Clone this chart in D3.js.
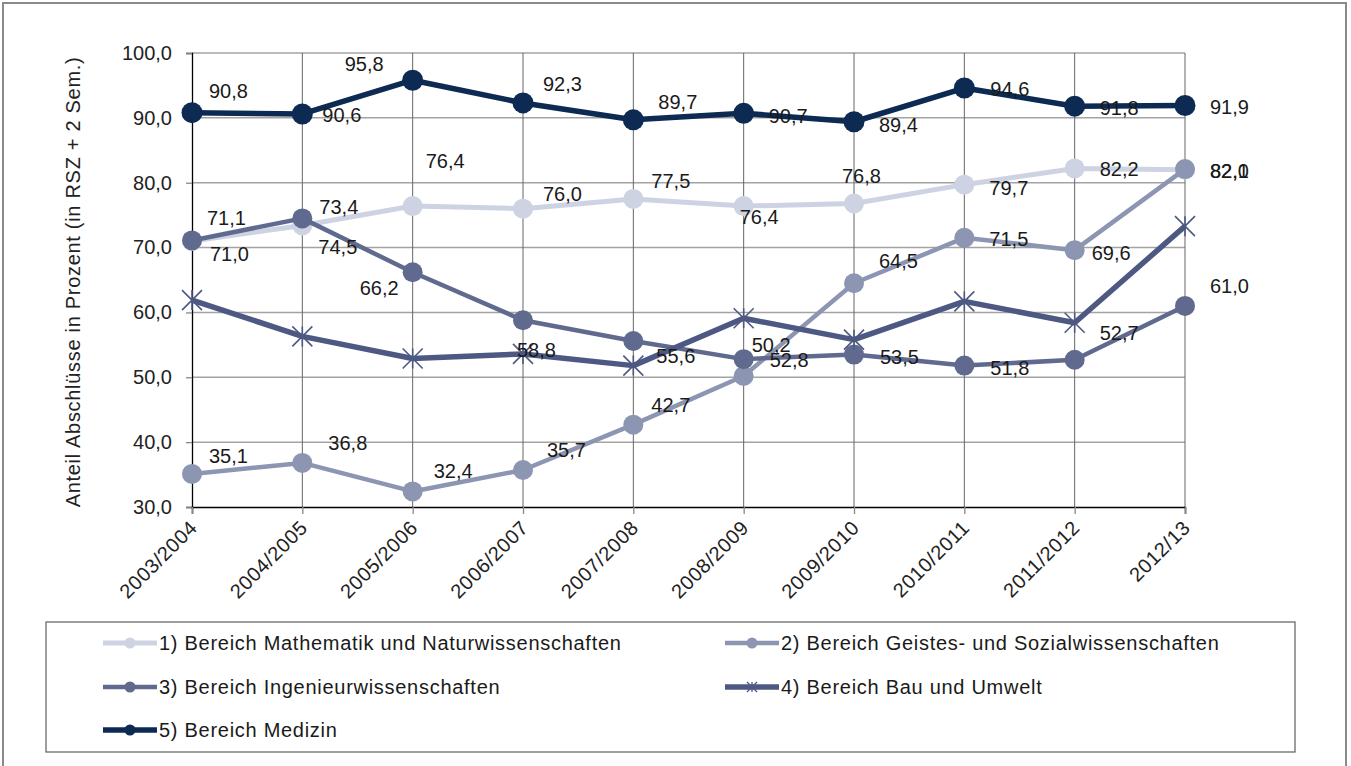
<!DOCTYPE html>
<html><head><meta charset="utf-8">
<script src="https://cdn.jsdelivr.net/npm/d3@7"></script>
<style>
html,body{margin:0;padding:0;background:#fff;}
svg{display:block;font-family:"Liberation Sans",Arial,Helvetica,sans-serif;}
</style></head>
<body>
<svg id="chart" width="1351" height="766"></svg>
<script>
const categories = ["2003/2004","2004/2005","2005/2006","2006/2007","2007/2008","2008/2009","2009/2010","2010/2011","2011/2012","2012/13"];
const yTicks = [30,40,50,60,70,80,90,100];
const seriesNames = ["1) Bereich Mathematik und Naturwissenschaften","2) Bereich Geistes- und Sozialwissenschaften","3) Bereich Ingenieurwissenschaften","4) Bereich Bau und Umwelt","5) Bereich Medizin"];
const mathematik = [71.0,73.4,76.4,76.0,77.5,76.4,76.8,79.7,82.2,82.0];
const geistes    = [35.1,36.8,32.4,35.7,42.7,50.2,64.5,71.5,69.6,82.1];
const ingenieur  = [71.1,74.5,66.2,58.8,55.6,52.8,53.5,51.8,52.7,61.0];
const bau        = [61.9,56.3,52.9,53.6,51.8,59.1,55.8,61.7,58.4,73.3];
const medizin    = [90.8,90.6,95.8,92.3,89.7,90.7,89.4,94.6,91.8,91.9];
const yTitle = "Anteil Abschlüsse in Prozent (in RSZ + 2 Sem.)";

// label placement (dx from point to text start, dy from point to baseline)
const labelPos = [
  [[18,19.5],[17,-12],[13,-38],[20,-8],[18,-11],[-4,18],[-12,-20],[25,10],[25,8],[25,8.5]],
  [[17,-11],[26,-13],[21,-13],[24,-13],[18,-12.5],[8,-24],[25,-15],[25,8],[17,10],[25,9]],
  [[15,-15],[16,36],[-53,23],[-6,37],[23,22],[26,8],[26,9.5],[26,9.5],[25,-19.5],[25,-12.5]],
  null,
  [[17,-15],[20,8],[-68,-9],[20,-12],[25,-11],[25,9.5],[25,10],[26,8],[25,9],[25,8]]
];

const colors = ["#cdd3e2","#8c95b2","#5f6a8e","#4d5982","#0c2a52"];
const widths = [5,4.5,4.5,5.5,5.5];
const markers = ["circle","circle","circle","star","circle"];
const allSeries = [mathematik,geistes,ingenieur,bau,medizin];

const svg = d3.select("#chart");
const x = d3.scalePoint().domain(categories).range([192,1185]);
const y = d3.scaleLinear().domain([30,100]).range([507,53]);
const fmt = v => d3.format(".1f")(v).replace(".", ",");

// outer frame
svg.append("rect").attr("x",3).attr("y",3).attr("width",1343).attr("height",775)
  .attr("fill","none").attr("stroke","#8a8a8a").attr("stroke-width",2);

// horizontal grid
svg.append("g").selectAll("line").data(yTicks.filter(d=>d>30)).join("line")
  .attr("x1",x.range()[0]).attr("x2",x.range()[1])
  .attr("y1",d=>y(d)).attr("y2",d=>y(d))
  .attr("stroke","#a3a3a3").attr("stroke-width",1.5);
// vertical grid
svg.append("g").selectAll("line").data(categories.slice(1)).join("line")
  .attr("x1",d=>x(d)).attr("x2",d=>x(d))
  .attr("y1",y(100)).attr("y2",y(30))
  .attr("stroke","#666").attr("stroke-width",1);

// y axis
const yAxis = d3.axisLeft(y).tickValues(yTicks).tickSize(6).tickPadding(14).tickFormat(fmt);
const gy = svg.append("g").attr("transform",`translate(${x.range()[0]},0)`).call(yAxis);
gy.select(".domain").attr("stroke","#000").attr("stroke-width",1.3);
gy.selectAll(".tick line").attr("stroke","#888").attr("stroke-width",1.3);
gy.selectAll(".tick text").attr("font-size",20).attr("fill","#222").attr("font-family","Liberation Sans, Arial, sans-serif");

// x axis
const xAxis = d3.axisBottom(x).tickSize(7).tickFormat(d=>d);
const gx = svg.append("g").attr("transform",`translate(0,${y(30)})`).call(xAxis);
gx.select(".domain").attr("stroke","#000").attr("stroke-width",1.5);
gx.selectAll(".tick line").attr("stroke","#888").attr("stroke-width",1.3);
gx.selectAll(".tick text").attr("font-size",20).attr("letter-spacing","0.6px").attr("fill","#222")
  .attr("font-family","Liberation Sans, Arial, sans-serif")
  .attr("text-anchor","end").attr("dy",null)
  .attr("transform","translate(6,22) rotate(-45)").attr("x",0).attr("y",0);

// y title
svg.append("text").attr("transform",`translate(80,${(y(30)+y(100))/2+2}) rotate(-90)`)
  .attr("text-anchor","middle").attr("font-size",20).attr("letter-spacing","0.7px")
  .attr("fill","#222").text(yTitle);

const line = d3.line().x((d,i)=>x(categories[i])).y(d=>y(d));
const starPath2 = r => `M${-r},${-r}L${r},${r}M${-r},${r}L${r},${-r}M0,${-r}V${r}`;

allSeries.forEach((vals,s)=>{
  const g = svg.append("g");
  g.append("path").datum(vals).attr("d",line).attr("fill","none")
    .attr("stroke",colors[s]).attr("stroke-width",widths[s]).attr("stroke-linejoin","round");
  if(markers[s]==="circle"){
    g.selectAll("circle").data(vals).join("circle")
      .attr("cx",(d,i)=>x(categories[i])).attr("cy",d=>y(d))
      .attr("r", s===4?10.5:10).attr("fill",colors[s]);
  } else {
    g.selectAll("path.m").data(vals).join("path").attr("class","m")
      .attr("transform",(d,i)=>`translate(${x(categories[i])},${y(d)})`)
      .attr("d",starPath2(10)).attr("stroke",colors[s]).attr("stroke-width",1.6).attr("fill","none");
  }
});

// data labels
allSeries.forEach((vals,s)=>{
  if(!labelPos[s]) return;
  svg.append("g").selectAll("text").data(vals).join("text")
    .attr("x",(d,i)=>x(categories[i])+labelPos[s][i][0])
    .attr("y",(d,i)=>y(d)+labelPos[s][i][1])
    .attr("font-size",20).attr("fill","#1a1a1a").text(d=>fmt(d));
});

// legend
svg.append("rect").attr("x",46).attr("y",622).attr("width",1249).attr("height",130)
  .attr("fill","#fff").attr("stroke","#6a6a6a").attr("stroke-width",1.3);
const legPos = [[103,643],[725,643],[103,687],[725,687],[103,730]];
seriesNames.forEach((name,s)=>{
  const [lx,ly] = legPos[s];
  const g = svg.append("g").attr("transform",`translate(${lx},${ly})`);
  g.append("line").attr("x1",0).attr("x2",54).attr("y1",0).attr("y2",0)
    .attr("stroke",colors[s]).attr("stroke-width",widths[s]);
  if(markers[s]==="circle"){
    g.append("circle").attr("cx",27).attr("cy",0).attr("r",5.5).attr("fill",colors[s]);
  } else {
    g.append("path").attr("transform","translate(27,0)").attr("d",starPath2(5))
      .attr("stroke",colors[s]).attr("stroke-width",1.3).attr("fill","none");
  }
  g.append("text").attr("x",56).attr("y",7).attr("font-size",20).attr("letter-spacing","0.72px")
    .attr("fill","#1a1a1a").text(name);
});
</script>
</body></html>
